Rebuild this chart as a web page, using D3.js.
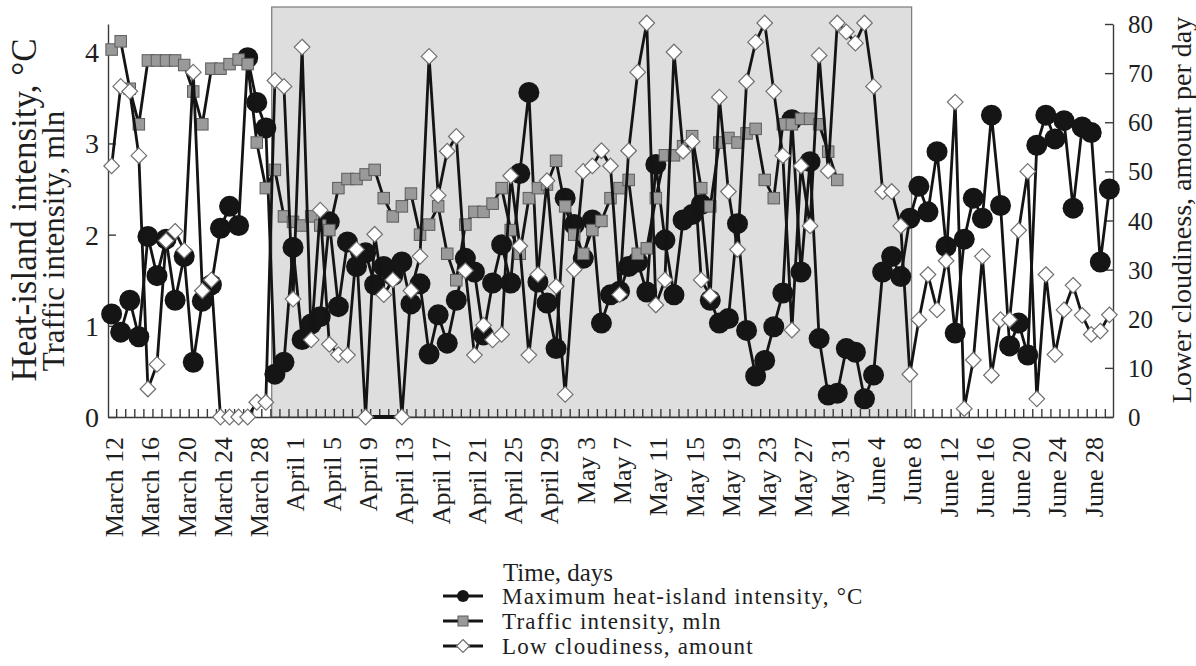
<!DOCTYPE html>
<html>
<head>
<meta charset="utf-8">
<script src="https://cdn.jsdelivr.net/npm/d3@7"></script>
<style>
    body { margin: 0; background: #fff; }
    svg { display: block; font-family: 'Liberation Serif', 'Times New Roman', serif; }
    .axis text { fill: #1e1e1e; }
    .axis path, .axis line { stroke: #3a3a3a; stroke-width: 1.4px; }
</style>
</head>
<body>
<svg></svg>
<script>

// DATA (one value per day, March 12 .. June 30)

const tickLabels = [
    'March 12', 'March 16', 'March 20', 'March 24', 'March 28',
    'April 1', 'April 5', 'April 9', 'April 13', 'April 17', 'April 21', 'April 25', 'April 29',
    'May 3', 'May 7', 'May 11', 'May 15', 'May 19', 'May 23', 'May 27', 'May 31',
    'June 4', 'June 8', 'June 12', 'June 16', 'June 20', 'June 24', 'June 28'
];

const heatIsland = [
    1.13, 0.93, 1.28, 0.88, 1.98, 1.55, 1.95, 1.28, 1.76, 0.60,
    1.27, 1.45, 2.07, 2.31, 2.10, 3.94, 3.45, 3.17, 0.47, 0.60,
    1.86, 0.85, 1.02, 1.10, 2.14, 1.21, 1.92, 1.65, 1.80, 1.45,
    1.65, 1.55, 1.70, 1.24, 1.46, 0.69, 1.12, 0.81, 1.28, 1.74,
    1.59, 0.90, 1.47, 1.89, 1.47, 2.67, 3.56, 1.48, 1.25, 0.75,
    2.40, 2.11, 1.74, 2.16, 1.03, 1.34, 1.38, 1.65, 1.70, 1.37,
    2.77, 1.94, 1.34, 2.16, 2.22, 2.33, 1.28, 1.03, 1.08, 2.12,
    0.95, 0.45, 0.62, 0.99, 1.36, 3.26, 1.59, 2.80, 0.86, 0.24,
    0.26, 0.75, 0.71, 0.20, 0.46, 1.59, 1.76, 1.54, 2.18, 2.53,
    2.25, 2.91, 1.87, 0.92, 1.95, 2.40, 2.18, 3.31, 2.32, 0.78,
    1.03, 0.68, 2.98, 3.31, 3.05, 3.25, 2.29, 3.18, 3.12, 1.70,
    2.50
];

// traffic counts stop on May 31
const traffic = [
    4.03, 4.12, 3.60, 3.21, 3.91, 3.91, 3.91, 3.91, 3.86, 3.57,
    3.21, 3.82, 3.82, 3.87, 3.92, 3.87, 3.01, 2.51, 2.71, 2.20,
    2.14, 2.10, 2.20, 2.10, 2.05, 2.51, 2.61, 2.61, 2.66, 2.71,
    2.40, 2.20, 2.31, 2.45, 2.00, 2.11, 2.31, 1.79, 1.50, 2.11,
    2.25, 2.25, 2.34, 2.51, 2.05, 1.79, 2.40, 2.51, 2.55, 2.81,
    2.31, 2.00, 1.79, 2.05, 2.15, 2.40, 2.51, 2.60, 1.79, 1.85,
    2.40, 2.87, 2.87, 2.97, 3.08, 2.51, 2.31, 3.01, 3.06, 3.01,
    3.11, 3.16, 2.60, 2.40, 3.21, 3.21, 3.27, 3.27, 3.21, 2.91,
    2.60
];

const cloudiness = [
    51.1, 67.3, 66.3, 53.2, 5.7, 10.7, 35.9, 37.8, 33.9, 70.2,
    25.7, 27.9, 0, 0, 0, 0, 3.0, 3.0, 68.5, 67.3,
    24.0, 75.3, 15.7, 42.1, 14.8, 12.7, 12.6, 34.1, 0, 37.2,
    24.9, 27.9, 0, 25.7, 32.7, 73.4, 45.1, 54.1, 57.1, 29.8,
    12.6, 18.7, 15.7, 16.8, 49.1, 34.8, 12.6, 29.0, 48.1, 26.6,
    4.6, 30.0, 50.0, 51.1, 54.2, 51.1, 24.9, 54.2, 70.2, 80.2,
    22.8, 27.9, 74.3, 54.1, 56.1, 27.9, 24.7, 65.1, 45.9, 34.1,
    68.3, 76.3, 80.2, 66.3, 53.2, 17.7, 51.1, 38.9, 73.6, 50.1,
    80.2, 78.4, 76.1, 80.2, 67.3, 45.9, 45.9, 38.9, 8.7, 19.8,
    29.0, 21.8, 31.8, 64.1, 1.7, 11.6, 32.7, 8.5, 19.8, 19.8,
    38.0, 50.0, 3.7, 29.0, 12.7, 21.8, 26.8, 20.7, 16.8, 17.5,
    20.8
];

const leftTicks = [0, 1, 2, 3, 4];
const rightTicks = [0, 10, 20, 30, 40, 50, 60, 70, 80];

const shadedPeriod = [17.65, 88.2];   // day index, ~March 30 .. June 8
const zeroRun = [28, 32];             // flat run drawn on the zero line, April 9 .. April 13

const legendItems = [
    'Maximum heat-island intensity, °C',
    'Traffic intensity, mln',
    'Low cloudiness, amount'
];


const sizes = {
    WIDTH: 1196,
    HEIGHT: 666,
    left: 108,
    right: 1113,
    top: 24,
    bottom: 417,
    boxTop: 7,
};

var svg = d3.select('svg')
    .attr('width', sizes.WIDTH)
    .attr('height', sizes.HEIGHT);

// SCALES

var x =         d3.scaleLinear().domain([-0.4, 110.4]).range([sizes.left, sizes.right]),
    yLeft =     d3.scaleLinear().domain([0, 4.31]).range([sizes.bottom, sizes.top]),
    yRight =    d3.scaleLinear().domain([0, 80]).range([sizes.bottom, sizes.top]);

// SHADED PERIOD

svg.append('rect')
    .attr('x', x(shadedPeriod[0]))
    .attr('y', sizes.boxTop)
    .attr('width', x(shadedPeriod[1]) - x(shadedPeriod[0]))
    .attr('height', sizes.bottom - sizes.boxTop)
    .attr('fill', '#dedede')
    .attr('stroke', '#7a7a7a')
    .attr('stroke-width', 1.2);

// AXES

function plainAxis(g) {
    // d3 puts sans-serif on the axis group, let the page font through
    g.attr('font-family', null).attr('font-size', null);
}

var gAxisX = svg.append('g')
    .attr('class', 'axis axis--x')
    .attr('transform', 'translate(0,' + sizes.bottom + ')')
    .call(d3.axisBottom(x)
        .tickValues(d3.range(0.5, 110, 1))
        .tickSizeInner(-8)
        .tickSizeOuter(0)
        .tickFormat(''))
    .call(plainAxis);

var gLabelsX = svg.append('g')
    .attr('class', 'axis axis--x-labels')
    .attr('transform', 'translate(0,' + sizes.bottom + ')')
    .call(d3.axisBottom(x)
        .tickValues(tickLabels.map((t, i) => i * 4))
        .tickSize(0)
        .tickFormat((d, i) => tickLabels[i]))
    .call(plainAxis);

gLabelsX.select('.domain').remove();
gLabelsX.selectAll('text')
    .attr('transform', 'rotate(-90)')
    .attr('x', -20)
    .attr('y', 0)
    .attr('dy', '0.42em')
    .style('text-anchor', 'end')
    .style('font-size', '26px');

var gAxisLeft = svg.append('g')
    .attr('class', 'axis axis--left')
    .attr('transform', 'translate(' + sizes.left + ',0)')
    .call(d3.axisLeft(yLeft)
        .tickValues(leftTicks)
        .tickFormat(d3.format('d'))
        .tickSizeInner(-8)
        .tickSizeOuter(0)
        .tickPadding(9))
    .call(plainAxis);

gAxisLeft.selectAll('text').style('font-size', '28px').attr('dy', '0.34em');

var gAxisRight = svg.append('g')
    .attr('class', 'axis axis--right')
    .attr('transform', 'translate(' + sizes.right + ',0)')
    .call(d3.axisRight(yRight)
        .tickValues(rightTicks)
        .tickSizeInner(-8)
        .tickSizeOuter(0)
        .tickPadding(15))
    .call(plainAxis);

gAxisRight.selectAll('text').style('font-size', '25px').attr('dy', '0.34em');

// AXIS TITLES

svg.append('text')
    .attr('transform', 'translate(36,210) rotate(-90)')
    .attr('text-anchor', 'middle')
    .style('font-size', '35px')
    .attr('fill', '#1e1e1e')
    .text('Heat-island intensity, °C');

svg.append('text')
    .attr('transform', 'translate(64,241) rotate(-90)')
    .attr('text-anchor', 'middle')
    .style('font-size', '31px')
    .attr('fill', '#1e1e1e')
    .text('Traffic intensity, mln');

svg.append('text')
    .attr('transform', 'translate(1191,210) rotate(-90)')
    .attr('text-anchor', 'middle')
    .style('font-size', '28px')
    .attr('fill', '#1e1e1e')
    .text('Lower cloudiness, amount per day');

svg.append('text')
    .attr('x', 558)
    .attr('y', 581)
    .attr('text-anchor', 'middle')
    .style('font-size', '25px')
    .attr('fill', '#1e1e1e')
    .text('Time, days');

// MARKERS

function diamond(h) {
    return 'M0,' + (-h) + 'L' + h + ',0L0,' + h + 'L' + (-h) + ',0Z';
}

function drawMarker(g, kind, big) {
    if(kind === 'circle') {
        g.append('circle')
            .attr('r', big ? 10.5 : 6)
            .attr('fill', '#151515');
    } else if(kind === 'square') {
        var s = big ? 11.5 : 10;
        g.append('rect')
            .attr('x', -s / 2).attr('y', -s / 2)
            .attr('width', s).attr('height', s)
            .attr('fill', '#9a9a9a')
            .attr('stroke', '#5c5c5c')
            .attr('stroke-width', 1);
    } else {
        g.append('path')
            .attr('d', diamond(big ? 7.8 : 6.5))
            .attr('fill', '#fff')
            .attr('stroke', '#707070')
            .attr('stroke-width', 1.2);
    }
}

// SERIES

function drawSeries(values, yScale, kind) {
    var g = svg.append('g').attr('class', 'series series--' + kind);

    g.append('path')
        .datum(values)
        .attr('d', d3.line().x((d, i) => x(i)).y(d => yScale(d)))
        .attr('fill', 'none')
        .attr('stroke', '#141414')
        .attr('stroke-width', 2.8)
        .attr('stroke-linejoin', 'round');

    g.selectAll('g.mark')
        .data(values)
        .join('g')
        .attr('class', 'mark')
        .attr('transform', (d, i) => 'translate(' + x(i) + ',' + yScale(d) + ')')
        .each(function() { drawMarker(d3.select(this), kind, true); });
}

drawSeries(heatIsland, yLeft, 'circle');
drawSeries(traffic, yLeft, 'square');

svg.append('line')
    .attr('x1', x(zeroRun[0]))
    .attr('x2', x(zeroRun[1]))
    .attr('y1', yRight(0))
    .attr('y2', yRight(0))
    .attr('stroke', '#141414')
    .attr('stroke-width', 4);

drawSeries(cloudiness, yRight, 'diamond');

// LEGEND

var legendKinds = ['circle', 'square', 'diamond'];

var gLegend = svg.append('g')
    .attr('class', 'legend')
    .attr('transform', 'translate(443,596)');

legendItems.forEach(function(label, i) {
    var row = gLegend.append('g').attr('transform', 'translate(0,' + (i * 25) + ')');

    row.append('line')
        .attr('x1', 0).attr('x2', 40)
        .attr('stroke', '#141414')
        .attr('stroke-width', 3);

    var m = row.append('g').attr('transform', 'translate(20,0)');
    drawMarker(m, legendKinds[i], false);

    row.append('text')
        .attr('x', 59)
        .attr('y', 8)
        .style('font-size', '23px')
        .style('letter-spacing', '1.2px')
        .attr('fill', '#1e1e1e')
        .text(label);
});

</script>
</body>
</html>
